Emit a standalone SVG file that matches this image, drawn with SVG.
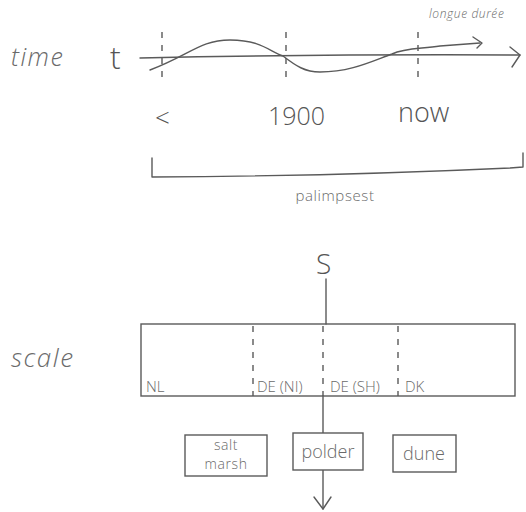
<svg xmlns="http://www.w3.org/2000/svg" width="526" height="512" viewBox="0 0 526 512">
<style>
.ln{fill:none;stroke:#5a5a5a;stroke-width:1.4;stroke-linecap:round;stroke-linejoin:round}
.dash{fill:none;stroke:#5a5a5a;stroke-width:1.4;stroke-dasharray:6 7}
.box{fill:#fff;stroke:#5a5a5a;stroke-width:1.4}
.lbl{font-family:"Open Sans","Liberation Sans",sans-serif;font-weight:300;fill:#6a6a6a}
.it{font-style:italic}
.hand{font-family:"Open Sans","Liberation Sans",sans-serif;font-weight:300;fill:#555}
</style>
<rect width="526" height="512" fill="#fff"/>
<g id="time-axis">
<text class="lbl it" x="11" y="66" font-size="25" letter-spacing="1.5">time</text>
<text class="hand" x="110" y="69" font-size="32">t</text>
<path class="ln" d="M140 58 Q330 54 520 55"/>
<path class="ln" d="M510 47 L520 55 L512 67"/>
<path class="dash" d="M162 32 V82 M286 32 V82 M418 32 V82"/>
</g>
<g id="wave">
<path class="ln" d="M150 70 C190 55 200 40 230 40 C262 40 270 52 283 56 C296 66 305 72 320 72 C350 72 370 62 392 54 C405 48 420 49 440 46 L480 43"/>
<path class="ln" d="M473 37 L482 43 L477 48"/>
</g>
<g id="time-labels">
<text class="hand" x="155" y="127" font-size="26">&lt;</text>
<text class="hand" x="268" y="125" font-size="25">1900</text>
<text class="hand" x="398" y="122" font-size="27">now</text>
<text class="lbl it" x="429" y="18" font-size="12" letter-spacing="0.6">longue durée</text>
</g>
<g id="palimpsest">
<path class="ln" d="M152 158 V177 Q340 176 510 168 L523 167 V153"/>
<text class="lbl" x="335" y="201" font-size="15" letter-spacing="0.6" text-anchor="middle">palimpsest</text>
</g>
<g id="scale">
<text class="lbl it" x="11" y="367" font-size="26" letter-spacing="1.5">scale</text>
<text class="hand" x="316" y="274" font-size="28">S</text>
<rect class="box" x="141" y="324" width="374" height="72"/>
<path class="dash" d="M253 326 V396 M323 326 V396 M398 326 V396"/>
<text class="lbl" x="146" y="392" font-size="15">NL</text>
<text class="lbl" x="257" y="392" font-size="15">DE (NI)</text>
<text class="lbl" x="330" y="392" font-size="15">DE (SH)</text>
<text class="lbl" x="405" y="392" font-size="15">DK</text>
</g>
<g id="connectors">
<path class="ln" d="M326 279 V324"/>
<path class="ln" d="M323 396 V433"/>
<path class="ln" d="M323 470 V509"/>
<path class="ln" d="M314 497 L323 509 L331 497"/>
</g>
<g id="salt-marsh">
<rect class="box" x="185" y="435" width="82" height="41"/>
<text class="lbl" x="226" y="450" font-size="14" letter-spacing="0.6" text-anchor="middle">salt</text>
<text class="lbl" x="226" y="469" font-size="14" letter-spacing="0.6" text-anchor="middle">marsh</text>
</g>
<g id="polder">
<rect class="box" x="293" y="433" width="70" height="37"/>
<text class="lbl" x="328" y="458" font-size="18" text-anchor="middle">polder</text>
</g>
<g id="dune">
<rect class="box" x="393" y="435" width="63" height="37"/>
<text class="lbl" x="424" y="460" font-size="18" text-anchor="middle">dune</text>
</g>
</svg>
